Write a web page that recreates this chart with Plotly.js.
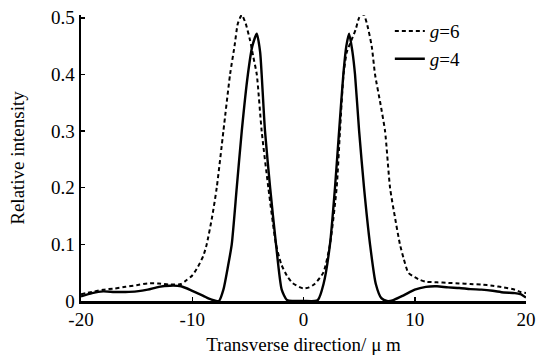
<!DOCTYPE html>
<html>
<head>
<meta charset="utf-8">
<script src="https://cdn.plot.ly/plotly-3.0.1.min.js"></script>
<style>html,body{margin:0;padding:0;background:#fff;}#chart{width:547px;height:358px;}</style>
</head>
<body>
<div id="chart"></div>
<script>
// g=6 (dashed)
const xG6 = [-20,-19,-18,-17,-16,-15,-14,-13,-12,-11,-10.5,-10,-9.5,-9,-8.7,-8.2,-7.8,-7.2,-6.6,-6.2,-5.9,-5.55,-5.2,-4.8,-4.5,-4.2,-3.76,-3.16,-2.47,-2.0,-1.5,-1.0,-0.3,0,0.5,1.0,1.78,2.38,2.98,3.28,3.6,3.9,4.3,4.7,5.0,5.38,5.7,6.13,6.43,6.9,7.33,7.78,8.2,8.67,9.0,9.42,10,10.5,11,12,13,14,15,16,17,18,19,19.5,20];
const yG6 = [0.012,0.016,0.02,0.022,0.025,0.028,0.031,0.031,0.029,0.03,0.037,0.045,0.06,0.08,0.1,0.15,0.2,0.3,0.4,0.45,0.49,0.505,0.49,0.46,0.43,0.4,0.3,0.2,0.1,0.065,0.045,0.032,0.024,0.022,0.024,0.03,0.05,0.1,0.2,0.3,0.4,0.44,0.46,0.48,0.5,0.507,0.49,0.45,0.4,0.35,0.3,0.2,0.15,0.1,0.075,0.05,0.042,0.037,0.034,0.033,0.032,0.031,0.03,0.029,0.027,0.024,0.02,0.016,0.014];
// g=4 (solid)
const xG4 = [-20,-19,-18,-17,-16,-15,-14,-13,-12,-11,-10,-9,-8.5,-8,-7.6,-7.2,-6.8,-6.45,-6.0,-5.55,-5.0,-4.6,-4.2,-3.9,-3.76,-3.46,-3.0,-2.47,-1.96,-1.5,-1,0,1,1.3,1.8,2.38,2.83,3.2,3.58,3.85,4.1,4.4,4.63,5.0,5.44,5.98,6.5,7.0,7.5,8,9,10,11,12,13,14,15,16,17,18,19,19.5,20];
const yG4 = [0.008,0.014,0.017,0.016,0.016,0.017,0.02,0.025,0.027,0.026,0.018,0.009,0.004,0.001,0,0.02,0.06,0.1,0.2,0.3,0.4,0.45,0.472,0.44,0.4,0.3,0.2,0.1,0.02,0.002,0,0,0,0.002,0.03,0.1,0.2,0.3,0.4,0.45,0.472,0.44,0.4,0.3,0.2,0.1,0.03,0.005,0,0.001,0.01,0.02,0.025,0.026,0.024,0.023,0.021,0.02,0.018,0.015,0.014,0.012,0.006];
const xTicks = [-20,-10,0,10,20];
const yTicks = [0,0.1,0.2,0.3,0.4,0.5];
const yTickText = ['0','0.1','0.2','0.3','0.4','0.5'];

const font = {family:'Liberation Serif, Times New Roman, serif', size:19, color:'#000'};

const traces = [
  {x:xG6, y:yG6, mode:'lines', name:'<i>g</i>=6', line:{color:'#000', width:2, dash:'4px,3px', shape:'spline', smoothing:0.6}},
  {x:xG4, y:yG4, mode:'lines', name:'<i>g</i>=4', line:{color:'#000', width:2.4, shape:'spline', smoothing:0.6}}
];

const layout = {
  width:547, height:358,
  margin:{l:81, r:21, t:15, b:57},
  paper_bgcolor:'#fff', plot_bgcolor:'#fff',
  font: font,
  showlegend:true,
  legend:{x:0.694, y:1.01, xanchor:'left', yanchor:'top', bgcolor:'rgba(0,0,0,0)', font:font, tracegroupgap:0},
  xaxis:{
    range:[-20,20], tickvals:xTicks, ticktext:xTicks.map(String),
    ticks:'inside', ticklen:4, tickwidth:1.5, tickcolor:'#000',
    showline:true, linecolor:'#000', linewidth:2.5, showgrid:false, zeroline:false,
    tickfont:font,
    title:{text:'Transverse direction/ μ m', font:font, standoff:9}
  },
  yaxis:{
    range:[0,0.505], tickvals:yTicks, ticktext:yTickText,
    ticks:'inside', ticklen:4, tickwidth:1.5, tickcolor:'#000',
    showline:true, linecolor:'#000', linewidth:2.5, showgrid:false, zeroline:false,
    tickfont:font,
    title:{text:'Relative intensity', font:font, standoff:22}
  }
};

Plotly.newPlot('chart', traces, layout, {staticPlot:true, displayModeBar:false});
</script>
</body>
</html>
